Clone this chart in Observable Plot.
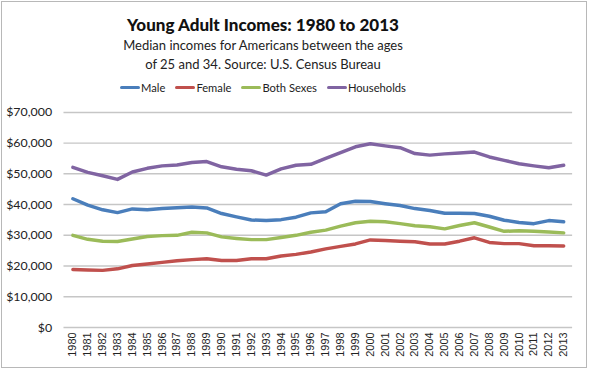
<!DOCTYPE html>
<html>
<head>
<meta charset="utf-8">
<script src="https://cdn.jsdelivr.net/npm/d3@7"></script>
<script src="https://cdn.jsdelivr.net/npm/@observablehq/plot@0.6"></script>
<style>
  html, body { margin: 0; padding: 0; background: #fff; }
  #frame {
    position: relative; width: 586px; height: 367px; box-sizing: border-box;
    border: 1.5px solid #b8b8b8; margin: 1px 0 0 1px; overflow: hidden;
    font-family: Lato, "Open Sans", sans-serif; color: #111;
  }
  #title { position: absolute; top: 12px; left: 0; width: 522px; text-align: center;
    font-weight: 900; font-size: 17px; }
  #sub { position: absolute; top: 34px; left: 0; width: 522px; text-align: center;
    font-size: 13px; line-height: 19px; color: #222; }
  #legend { position: absolute; top: 76px; left: 0; width: 522px; text-align: center;
    font-size: 11.2px; color: #222; }
  .item { display: inline-flex; align-items: center; margin: 0 5px; }
  .sw { display: inline-block; width: 20px; height: 3.5px; border-radius: 2px; margin-right: 1px; }
  #chart { position: absolute; top: 97px; left: -1px; }
</style>
</head>
<body>
<div id="frame">
  <div id="title">Young Adult Incomes: 1980 to 2013</div>
  <div id="sub">Median incomes for Americans between the ages<br>of 25 and 34. Source: U.S. Census Bureau</div>
  <div id="legend"></div>
  <div id="chart"></div>
</div>
<script>
const years = d3.range(1980, 2014).map(String);
const seriesNames = ["Male", "Female", "Both Sexes", "Households"];
const seriesColors = ["#4a7ebb", "#c0504d", "#9bbb59", "#8064a2"];
const male = [41900, 39800, 38300, 37400, 38600, 38300, 38700, 39000, 39200, 38900, 37100, 36000, 35000, 34800, 35100, 35900, 37300, 37700, 40300, 41100, 41000, 40300, 39700, 38700, 38100, 37200, 37200, 37100, 36200, 34900, 34200, 33800, 34800, 34400];
const female = [18900, 18700, 18600, 19100, 20200, 20700, 21200, 21700, 22100, 22400, 21800, 21800, 22400, 22400, 23300, 23800, 24600, 25600, 26400, 27200, 28500, 28300, 28100, 27900, 27200, 27200, 28100, 29200, 27700, 27300, 27300, 26600, 26600, 26500];
const both = [30000, 28700, 28100, 28000, 28800, 29600, 29900, 30000, 31000, 30800, 29500, 29000, 28600, 28600, 29300, 30000, 31000, 31700, 33000, 34100, 34600, 34400, 33800, 33100, 32800, 32100, 33200, 34100, 32700, 31300, 31500, 31300, 31100, 30800];
const households = [52100, 50500, 49400, 48200, 50600, 51800, 52600, 52900, 53700, 54000, 52300, 51500, 51000, 49600, 51600, 52800, 53100, 55000, 56900, 58800, 59800, 59100, 58500, 56600, 56100, 56500, 56800, 57100, 55500, 54400, 53300, 52600, 52000, 52800];
const yTicks = [0, 10000, 20000, 30000, 40000, 50000, 60000, 70000];

const seriesValues = [male, female, both, households];
const rows = [];
seriesNames.forEach((name, s) => years.forEach((yr, i) => rows.push({year: yr, value: seriesValues[s][i], series: name})));

const legend = document.getElementById("legend");
seriesNames.forEach((n, i) => {
  const el = document.createElement("span");
  el.className = "item";
  el.innerHTML = `<span class="sw" style="background:${seriesColors[i]}"></span>${n}`;
  legend.appendChild(el);
});

const chart = Plot.plot({
  width: 590,
  height: 270,
  marginTop: 13,
  marginBottom: 40,
  marginLeft: 63,
  marginRight: 14,
  style: {fontFamily: "Lato, 'Open Sans', sans-serif", background: "transparent"},
  x: {type: "point", domain: years, padding: 0.5, label: null},
  y: {domain: [0, 70000], label: null},
  color: {domain: seriesNames, range: seriesColors},
  marks: [
    Plot.ruleY(yTicks, {stroke: "#c6c6c6", strokeWidth: 1.5}),
    Plot.axisY({ticks: yTicks, tickFormat: d3.format("$,"), tickSize: 0, tickPadding: 12, fontSize: 12.5, fill: "#222"}),
    Plot.axisX({tickSize: 0, tickRotate: -90, tickPadding: 5, fontSize: 11, fill: "#222", fontFamily: "'Liberation Sans', Arial, sans-serif"}),
    Plot.line(rows, {x: "year", y: "value", z: "series", stroke: "series", strokeWidth: 3.5, curve: "linear"})
  ]
});
document.getElementById("chart").appendChild(chart);
</script>
</body>
</html>
